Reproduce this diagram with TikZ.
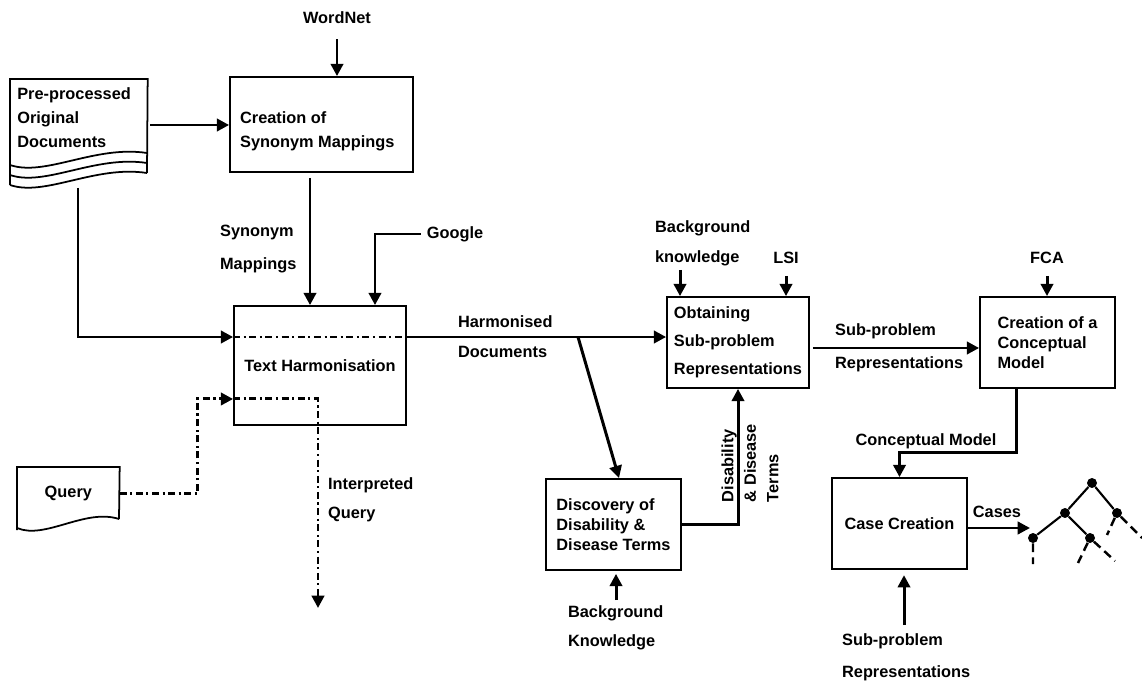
\documentclass[tikz,border=0pt]{standalone}
\usepackage{fontspec}
\setmainfont{Liberation Sans}
\usetikzlibrary{positioning}
\usetikzlibrary{calc}
\usetikzlibrary{arrows.meta}

\tikzset{
  proc/.style={draw, line width=1pt, inner sep=0pt, align=left},
  lbl/.style={align=left, inner sep=1pt},
  arr/.style={line width=1.7pt, -{Triangle[length=7pt,width=7pt]}},
  qline/.style={line width=1.7pt, dash pattern=on 4pt off 2pt on 1.2pt off 2pt},
  qarr/.style={qline, -{Triangle[length=7pt,width=7pt]}},
  leaf/.style={circle, fill=black, inner sep=0pt, minimum size=0.2cm},
  stub/.style={line width=1.4pt, dash pattern=on 5pt off 3pt},
}

\begin{document}
\begin{tikzpicture}[x=0.02cm, y=-0.02cm, every node/.style={font=\bfseries\fontsize{9.3}{11.2}\selectfont}]
    \useasboundingbox (0,0) rectangle (1142,685);

    % Source documents (stacked pages)
    \node[minimum width=2.74cm, minimum height=1.52cm, text width=2.46cm, align=left, inner sep=0pt, anchor=north west] (docs) at (10,79) {Pre-processed\\[2.4pt]Original\\[2.4pt]Documents};
    \draw[line width=1pt] (10,185) -- (docs.north west) -- (docs.north east) -- (147,173);
    \foreach \d in {0,10,20}
        \draw[line width=1pt] (10,165+\d) .. controls (45,177+\d) and (95,145+\d) .. (147,153+\d);

    % Query page
    \node[minimum width=2.04cm, minimum height=1.05cm, inner sep=0pt, anchor=north west] (query) at (17,467) {Query};
    \draw[line width=1pt] (17,530) -- (query.north west) -- (query.north east) -- (119,519);
    \draw[line width=1pt] (17,528) .. controls (45,540) and (85,508) .. (119,519);

    % Process boxes
    \node[proc, minimum width=3.66cm, minimum height=1.9cm] (syn) at (321.5,124.5) {};
    \node[lbl, anchor=west] (syntxt) at (238,131) {Creation of\\[2.4pt]Synonym Mappings};
    \node[proc, minimum width=3.44cm, minimum height=2.38cm] (harm) at (320,365.5) {Text Harmonisation};
    \node[proc, minimum width=2.84cm, minimum height=1.82cm] (obt) at (738,342.5) {Obtaining\\[4.7pt]Sub-problem\\[4.7pt]Representations};
    \node[proc, minimum width=2.7cm, minimum height=1.82cm] (concept) at (1047.5,342.5) {Creation of a\\Conceptual\\Model};
    \node[proc, minimum width=2.7cm, minimum height=1.82cm] (disc) at (613.5,524.5) {Discovery of\\Disability \&\\Disease Terms};
    \node[proc, minimum width=2.7cm, minimum height=1.82cm] (case) at (899.5,523.5) {Case Creation};

    % Inputs and labels
    \node (wn) at (337,18) {WordNet};
    \node (ggl) at (455,234) {Google};
    \node (lsi) at (786,258) {LSI};
    \node (fca) at (1047,258) {FCA};
    \node[lbl, anchor=west] (synlbl) at (218,249) {Synonym\\[8.1pt]Mappings};
    \node[lbl, anchor=west] (hdlbl) at (456,337) {Harmonised\\[5.8pt]Documents};
    \node[lbl, anchor=west] (iqlbl) at (326,500) {Interpreted\\[5.2pt]Query};
    \node[lbl, anchor=west] (bk1) at (653,243) {Background\\[5.8pt]knowledge};
    \node[lbl, anchor=west] (bk2) at (566,627.5) {Background\\[5.2pt]Knowledge};
    \node[lbl, anchor=west] (splbl) at (833,347.5) {Sub-problem\\[7.5pt]Representations};
    \node[lbl, anchor=west] (spr) at (840,657) {Sub-problem\\[6.9pt]Representations};
    \node (cmlbl) at (926,441) {Conceptual Model};
    \node (caseslbl) at (997,512) {Cases};
    \node[rotate=90, align=left] (dislbl) at (750,463) {Disability\\[1.6pt]\& Disease\\[1.6pt]Terms};

    % Helper points
    \coordinate (docout) at (150,125);
    \coordinate (synout) at (310,178);
    \coordinate (docfoot) at (78,188);
    \coordinate (hin) at ([yshift=0.57cm]harm.west);
    \coordinate (qin) at ([yshift=-0.67cm]harm.west);
    \coordinate (qout) at (318,608);
    \coordinate (split) at (578,337);
    \coordinate (bkup) at (616,600);
    \coordinate (bkdown) at (680,270);
    \coordinate (spout) at ([yshift=-0.11cm]obt.east);
    \coordinate (cout) at ([xshift=-0.63cm]concept.south);
    \coordinate (sprup) at (904,625);
    \coordinate (treein) at (1030,528);

    % Connectors
    \draw[arr] ([yshift=-0.18cm]wn.south) -- (wn.south |- syn.north);
    \draw[arr] (docout) -- (docout -| syn.west);
    \draw[arr] (synout) -- (synout |- harm.north);
    \draw[arr] (ggl.west) -| ([xshift=1.1cm]harm.north);
    \draw[arr] (docfoot) |- (hin);
    \draw[qline] (hin) -- (hin -| harm.east);
    \draw[arr] (hin -| harm.east) -- (hin -| obt.west);
    \draw[qarr] (query.east) -- ++(78,0) |- (qin);
    \draw[qarr] (qin) -| (qout);
    \draw[arr] (split) -- ([xshift=0.11cm]disc.north);
    \draw[arr] (disc.east) -| (obt.south);
    \draw[arr, shorten >=1.7pt] (bkup) -- (bkup |- disc.south);
    \draw[arr] (bkdown) -- (bkdown |- obt.north);
    \draw[arr] ([yshift=-0.12cm]lsi.south) -- (lsi.south |- obt.north);
    \draw[arr, shorten <=1.7pt] (spout) -- (spout -| concept.west);
    \draw[arr] ([yshift=-0.12cm]fca.south) -- (fca.south |- concept.north);
    \draw[arr] (cout) -- ++(0,64) -| (case.north);
    \draw[arr, shorten >=3pt] (sprup) -- (sprup |- case.south);
    \draw[arr] (case.east |- treein) -- (treein);

    % Case tree
    \node[leaf] (t1) at (1092,483) {};
    \node[leaf] (t2) at (1065,513) {};
    \node[leaf] (t3) at (1117,513) {};
    \node[leaf] (t4) at (1033,538) {};
    \node[leaf] (t5) at (1090,538) {};
    \draw[line width=1.2pt] (t1) -- (t2) (t1) -- (t3) (t2) -- (t4) (t2) -- (t5);
    \draw[stub] (t4) -- ++(0,26) (t5) -- ++(-12,25) (t5) -- ++(25,23) (t3) -- ++(-10,22) (t3) -- ++(25,25);

\end{tikzpicture}
\end{document}
